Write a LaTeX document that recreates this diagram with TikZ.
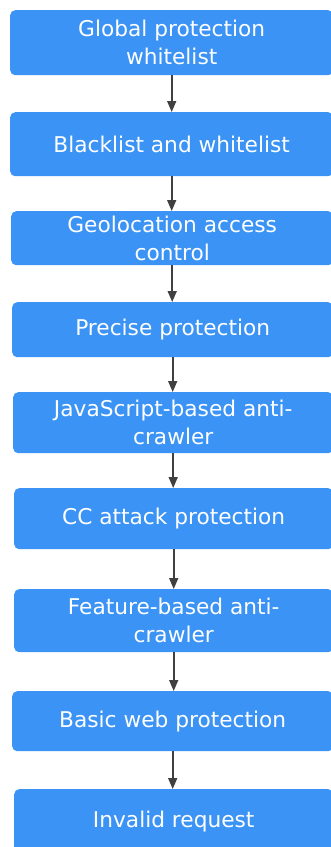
\documentclass[tikz,border=0pt]{standalone}
\usepackage{fontspec}
\setmainfont{DejaVu Sans}
\usetikzlibrary{arrows.meta}
\definecolor{stageblue}{HTML}{3A93F5}
\definecolor{flowgray}{HTML}{404040}

\begin{document}
\begin{tikzpicture}[x=1pt,y=-1pt,
  stage/.style={fill=stageblue,rounded corners=5pt,text=white,align=center,
    font=\fontsize{21.7}{28}\selectfont,anchor=north west,inner sep=0pt},
  flow/.style={draw=flowgray,line width=1.6pt,-{Triangle[length=11pt,width=9pt]}}]
  \useasboundingbox (0,0) rectangle (331,847);
  \clip (0,0) rectangle (331,847);
  \node[stage,minimum width=323pt,minimum height=65pt] (glob)  at (10,10)  {Global protection\\ whitelist};
  \node[stage,minimum width=323pt,minimum height=64pt] (blst)  at (10,112) {Blacklist and whitelist};
  \node[stage,minimum width=322pt,minimum height=54pt] (geo)   at (11,211) {Geolocation access\\ control};
  \node[stage,minimum width=321pt,minimum height=55pt] (prec)  at (12,302) {Precise protection};
  \node[stage,minimum width=320pt,minimum height=61pt] (jsac)  at (13,392) {JavaScript-based anti-\\ crawler};
  \node[stage,minimum width=319pt,minimum height=61pt] (cc)    at (14,488) {CC attack protection};
  \node[stage,minimum width=319pt,minimum height=63pt] (feat)  at (14,589) {Feature-based anti-\\ crawler};
  \node[stage,minimum width=321pt,minimum height=60pt] (basic) at (12,691) {Basic web protection};
  \node[stage,minimum width=319pt,minimum height=65pt] (inval) at (14,789) {Invalid request};
  \foreach \a/\b in {glob/blst,blst/geo,geo/prec,prec/jsac,jsac/cc,cc/feat,feat/basic,basic/inval}
    \draw[flow] (\a.south) -- (\a.south |- \b.north);
\end{tikzpicture}
\end{document}
